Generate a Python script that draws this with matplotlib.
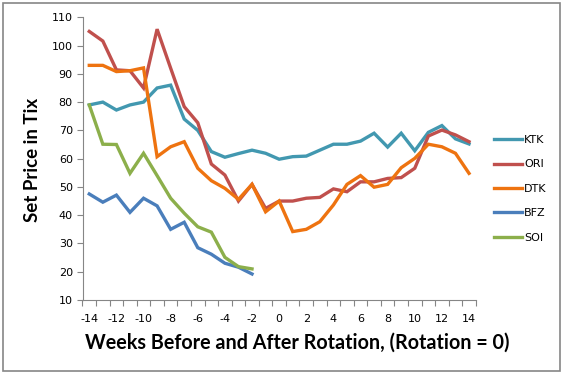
import matplotlib
matplotlib.use("Agg")
import matplotlib.pyplot as plt
from matplotlib.patches import Rectangle

weeks = list(range(-14, 15))
ktk = [79, 80, 77.2, 79, 80, 85, 86, 74, 70, 62.5, 60.5, 61.8, 63, 61.9, 59.8, 60.7, 60.9, 63, 65.1, 65.1, 66.2, 69, 64.1, 69, 62.8, 69.3, 71.7, 67, 65.2]
ori = [105, 101.6, 91.4, 91.1, 85, 105.8, 92, 78.4, 72.7, 58.1, 54.2, 45, 50.9, 42.4, 45, 45, 46, 46.3, 49.3, 48.3, 51.8, 51.8, 53, 53.3, 56.6, 68, 70.1, 68.4, 66]
dtk = [93, 93, 90.8, 91.1, 92.1, 60.7, 64.2, 66, 56.6, 52.2, 49.5, 45.6, 50.9, 41.2, 45, 34.2, 35, 37.7, 43.6, 50.9, 54, 49.9, 50.9, 56.8, 60.1, 65.1, 64.2, 61.9, 54.8]
bfz = [47.5, 44.6, 47.1, 41, 46, 43.3, 35, 37.5, 28.5, 26.2, 23, 21.6, 19.2]
soi = [79, 65.1, 65, 54.8, 61.9, 54, 46, 40.7, 35.9, 34, 25.1, 21.8, 21]
series = [("KTK", ktk, "#4298B0"), ("ORI", ori, "#C0504D"), ("DTK", dtk, "#EE7310"),
          ("BFZ", bfz, "#4A7EBB"), ("SOI", soi, "#8CAF4B")]
xtick_labels = [str(w) for w in range(-14, 15, 2)]

fig = plt.figure(figsize=(5.64, 3.75), dpi=100)
fig.patches.append(Rectangle((3/564, 4/375), 557/564, 368/375, transform=fig.transFigure,
                             fill=False, edgecolor="#868686", linewidth=1.2))
ax = fig.add_axes([82.5/564, 75/375, 393.3/564, 282.7/375])

lines = []
for name, vals, col in series:
    ln, = ax.plot(weeks[:len(vals)], vals, color=col, lw=2.4, label=name, solid_joinstyle="miter")
    lines.append(ln)

ax.set_xlim(-14.5, 14.5)
ax.set_ylim(10, 110)
ax.set_yticks(range(10, 111, 10))
ax.set_xticks(range(-14, 15, 2))
ax.set_xticklabels(xtick_labels)
ax.set_xticks([w + 0.5 for w in range(-15, 15)], minor=True)
ax.tick_params(axis="x", which="major", length=0, pad=10, labelsize=8)
ax.tick_params(axis="x", which="minor", length=4, color="#868686", width=0.8)
ax.tick_params(axis="y", length=4, color="#868686", width=0.8, labelsize=8, pad=3)
for s in ["top", "right"]:
    ax.spines[s].set_visible(False)
for s in ["left", "bottom"]:
    ax.spines[s].set_color("#868686")
    ax.spines[s].set_linewidth(0.8)

fig.text(297/564, 1 - 343/375, "Weeks Before and After Rotation, (Rotation = 0)",
         ha="center", va="center", fontsize=14.2, fontweight="bold", family="Lato")
fig.text(33/564, 1 - 160/375, "Set Price in Tix", rotation=90,
         ha="center", va="center", fontsize=13.5, fontweight="bold", family="Lato")

fig.legend(handles=lines, loc="upper left", bbox_to_anchor=(494/564, 1 - 135/375),
           frameon=False, fontsize=8, handlelength=2.5, handletextpad=0.2,
           labelspacing=1.3, borderpad=0, borderaxespad=0)

fig.savefig("out.png", dpi=100)
